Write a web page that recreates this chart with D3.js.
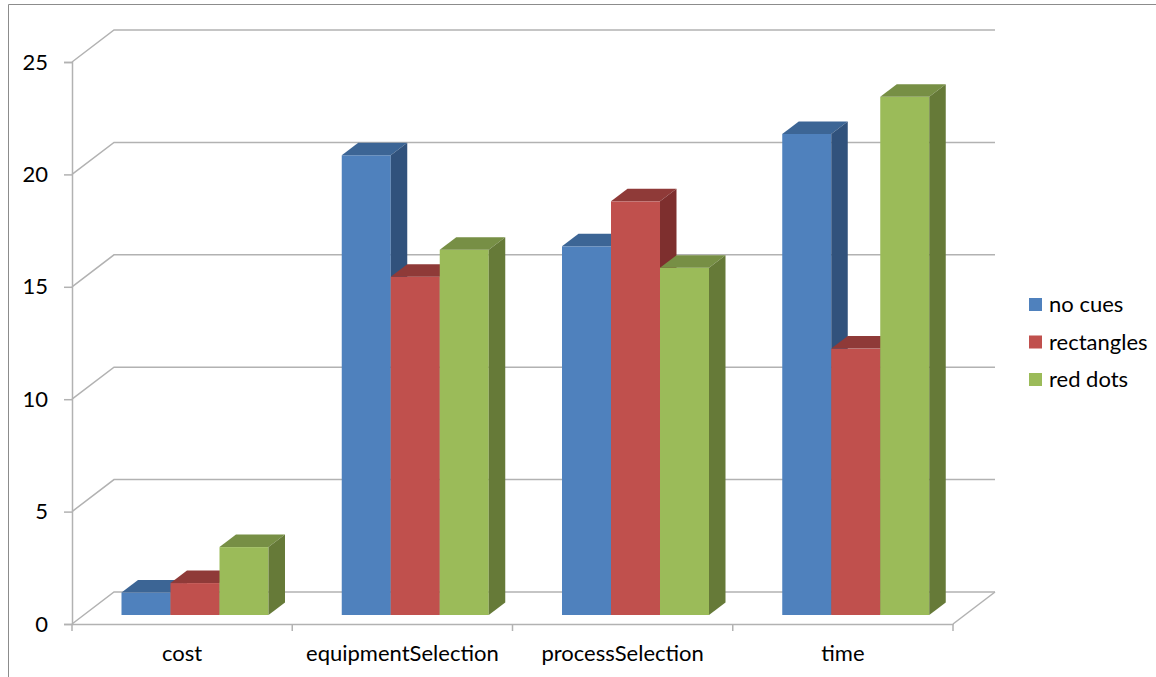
<!DOCTYPE html>
<html lang="en">
<head>
<meta charset="utf-8">
<title>Cues chart</title>
<script src="https://d3js.org/d3.v7.min.js"></script>
<style>
  html, body { margin: 0; padding: 0; background: #fff; }
  svg { display: block; }
  text { font-family: Lato, "Open Sans", sans-serif; font-size: 22px; fill: #000; }
</style>
</head>
<body>
<script>
// values
var categories = ["cost", "equipmentSelection", "processSelection", "time"];
var seriesNames = ["no cues", "rectangles", "red dots"];
var noCues = [1.0, 20.45, 16.4, 21.4];
var rectangles = [1.42, 15.05, 18.4, 11.85];
var redDots = [3.02, 16.25, 15.45, 23.05];
var valueTicks = [0, 5, 10, 15, 20, 25];
var seriesValues = [noCues, rectangles, redDots];

var frontColors = ["#4f81bd", "#c0504d", "#9bbb59"];
var topColors = ["#3c6595", "#8f3a38", "#778f45"];
var sideColors = ["#31527c", "#7e2f2e", "#667a38"];

var w = 1156, h = 677;

// floor depth of the chart box and of a single bar
var depthX = 42, depthY = 32;
var barDepthX = 16.5, barDepthY = 12.5;
var barLift = 9; // bars sit this far above the front axis line

var svg = d3.select("body").append("svg").attr("width", w).attr("height", h);

var x0 = d3.scaleBand().domain(categories).range([72, 953]);
var x1 = d3.scaleBand().domain(seriesNames).range([49.5, 196.5]);
var y = d3.scaleLinear().domain([0, 25]).range([624, 62]);

// outer frame, only top and left show in the picture
svg.append("path")
  .attr("d", "M8.5,677V4.5H1156")
  .attr("fill", "none")
  .attr("stroke", "#8c8c8c")
  .attr("stroke-width", 1);

// walls and gridlines
var gridColor = "#b2b2b2";
var grid = svg.append("g").attr("fill", "none").attr("stroke", gridColor).attr("stroke-width", 1.5);
grid.selectAll("path")
  .data(valueTicks)
  .enter()
  .append("path")
  .attr("d", function(d) {
    var yy = y(d);
    return "M72," + yy + "L" + (72 + depthX) + "," + (yy - depthY) + "H" + (953 + depthX);
  });

// floor right edge
grid.append("path")
  .attr("d", "M953," + y(0) + "L" + (953 + depthX) + "," + (y(0) - depthY));

// y axis
var yAxis = d3.axisLeft(y).tickValues(valueTicks).tickSize(8).tickPadding(16).tickFormat(d3.format("d"));
var yG = svg.append("g").attr("transform", "translate(72,0)").call(yAxis);
yG.selectAll("line").attr("stroke", gridColor).attr("stroke-width", 1.5);
yG.select(".domain").attr("stroke", gridColor).attr("stroke-width", 1.5);
yG.selectAll("text").style("font-size", "22px").style("font-family", "Lato, sans-serif").attr("fill", "#000");

// x axis
var xAxis = d3.axisBottom(x0).tickSize(0).tickPadding(21);
var xG = svg.append("g").attr("transform", "translate(0," + y(0) + ")").call(xAxis);
xG.select(".domain").attr("stroke", gridColor).attr("stroke-width", 1.5);
xG.selectAll("text").style("font-size", "22px").style("font-family", "Lato, sans-serif").attr("fill", "#000");

var edges = d3.range(categories.length + 1).map(function(i) { return 72 + i * x0.step(); });
xG.selectAll(".edge")
  .data(edges)
  .enter()
  .append("line")
  .attr("class", "edge")
  .attr("x1", function(d) { return d; })
  .attr("x2", function(d) { return d; })
  .attr("y1", 0)
  .attr("y2", 7)
  .attr("stroke", gridColor)
  .attr("stroke-width", 1.5);

// bars, left to right so the next bar covers the side of the last one
var bars = svg.append("g");
categories.forEach(function(cat, c) {
  seriesNames.forEach(function(name, s) {
    var v = seriesValues[s][c];
    var left = x0(cat) + x1(name);
    var bw = x1.bandwidth();
    var bottom = y(0) - barLift;
    var top = y(v) - barLift;
    var g = bars.append("g");

    g.append("rect")
      .attr("x", left)
      .attr("y", top)
      .attr("width", bw)
      .attr("height", bottom - top)
      .attr("fill", frontColors[s]);

    g.append("polygon")
      .attr("points", [
        [left, top],
        [left + barDepthX, top - barDepthY],
        [left + bw + barDepthX, top - barDepthY],
        [left + bw, top]
      ].join(" "))
      .attr("fill", topColors[s]);

    g.append("polygon")
      .attr("points", [
        [left + bw, top],
        [left + bw + barDepthX, top - barDepthY],
        [left + bw + barDepthX, bottom - barDepthY],
        [left + bw, bottom]
      ].join(" "))
      .attr("fill", sideColors[s]);
  });
});

// legend
var legend = svg.append("g");
var legendY = d3.scalePoint().domain(seriesNames).range([305, 380]);
seriesNames.forEach(function(name, s) {
  legend.append("rect")
    .attr("x", 1029)
    .attr("y", legendY(name) - 7)
    .attr("width", 13)
    .attr("height", 13)
    .attr("fill", frontColors[s]);
  legend.append("text")
    .attr("x", 1049)
    .attr("y", legendY(name) + 7)
    .text(name);
});
</script>
</body>
</html>
